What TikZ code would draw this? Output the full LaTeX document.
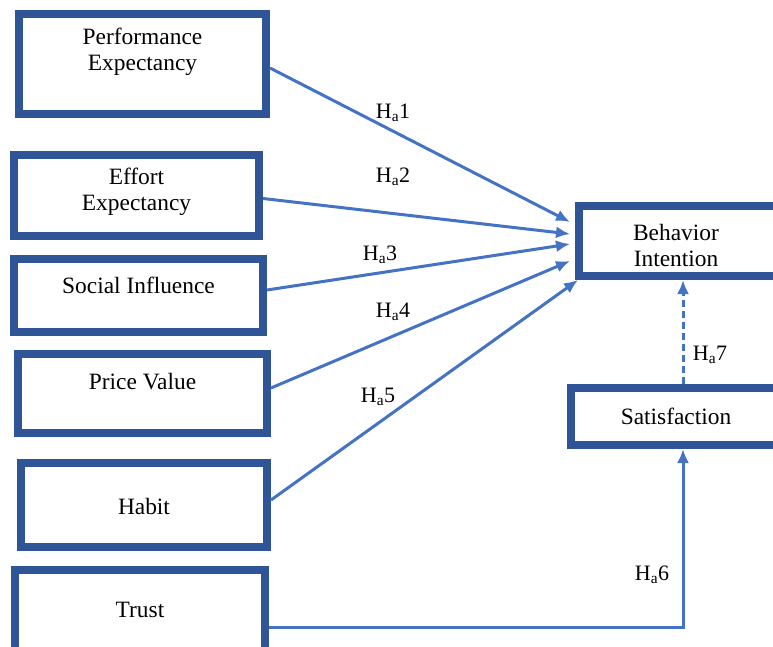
\documentclass[tikz,border=0pt]{standalone}
\usepackage{fontspec}
\setmainfont{Liberation Serif}
\usetikzlibrary{arrows.meta}
\definecolor{boxblue}{HTML}{2F5597}
\definecolor{lineblue}{HTML}{4472C4}
\begin{document}
\begin{tikzpicture}[
	x=1pt,
	y=-1pt,
	line join=miter,
	>={Latex[length=14pt,width=12pt]},
	every node/.style={align=center},
	factor/.style={
		shape=rectangle,
		draw=boxblue,
		line width=8pt,
		fill=white
	},
	factortext/.style={
		font=\fontsize{23.4}{26}\selectfont,
		inner sep=0pt
	},
	hyp/.style={
		draw=lineblue,
		line width=3pt,
		->
	},
	hyplabel/.style={
		font=\fontsize{22}{24}\selectfont,
		inner sep=0pt
	}
	]
	\useasboundingbox (0,0) rectangle (773,647);
	\clip (0,0) rectangle (773,647);
	\node [factor, minimum width=247pt, minimum height=100pt] (pe) at (142.5,64) {};
	\node [factor, minimum width=245pt, minimum height=81pt] (ee) at (136.5,195.5) {};
	\node [factor, minimum width=249pt, minimum height=73pt] (si) at (138.5,295.5) {};
	\node [factor, minimum width=249pt, minimum height=79pt] (pv) at (142.5,393.5) {};
	\node [factor, minimum width=246pt, minimum height=84pt] (habit) at (144,505) {};
	\node [factor, minimum width=250pt, minimum height=82pt] (trust) at (140,611) {};
	\node [factor, minimum width=207pt, minimum height=70pt] (bi) at (682.5,241) {};
	\node [factor, minimum width=215pt, minimum height=57pt] (sat) at (678.5,416.5) {};
	\node [factortext] (pe-text) at ([yshift=12pt]pe.center) {Performance\\Expectancy};
	\node [factortext] (ee-text) at ([yshift=3.5pt]ee.center) {Effort\\Expectancy};
	\node [factortext] (si-text) at ([yshift=10.5pt]si.center) {Social Influence};
	\node [factortext] (pv-text) at ([yshift=11.5pt]pv.center) {Price Value};
	\node [factortext] (habit-text) at ([yshift=-1pt]habit.center) {Habit};
	\node [factortext] (trust-text) at ([yshift=1pt]trust.center) {Trust};
	\node [factortext] (bi-text) at ([xshift=-6.5pt,yshift=-4pt]bi.center) {Behavior\\Intention};
	\node [factortext] (sat-text) at ([xshift=-2.5pt]sat.center) {Satisfaction};
	\foreach \src/\a/\b in {pe/-4/19, ee/-3/7, si/5.5/-3, pv/5.5/-20}{
		\draw [hyp] ([yshift=\a pt]\src.east) -- ([xshift=-5pt, yshift=\b pt]bi.west);
	}
	\draw [hyp] ([yshift=5pt]habit.east) -- ([xshift=3pt]bi.south west);
	\draw [hyp] ([yshift=-16pt]trust.east) -| ([xshift=4.5pt]sat.south);
	\draw [hyp, dashed, dash pattern=on 7pt off 4pt] ([xshift=4.5pt]sat.north) -- ([xshift=4.5pt]sat.north |- bi.south);
	\node [hyplabel] (h1) at (393,113) {H\textsubscript{a}1};
	\node [hyplabel] (h2) at (393,177) {H\textsubscript{a}2};
	\node [hyplabel] (h3) at (380,255) {H\textsubscript{a}3};
	\node [hyplabel] (h4) at (393,312) {H\textsubscript{a}4};
	\node [hyplabel] (h5) at (378,397) {H\textsubscript{a}5};
	\node [hyplabel] (h6) at (652,575) {H\textsubscript{a}6};
	\node [hyplabel] (h7) at (710,355) {H\textsubscript{a}7};
\end{tikzpicture}
\end{document}
